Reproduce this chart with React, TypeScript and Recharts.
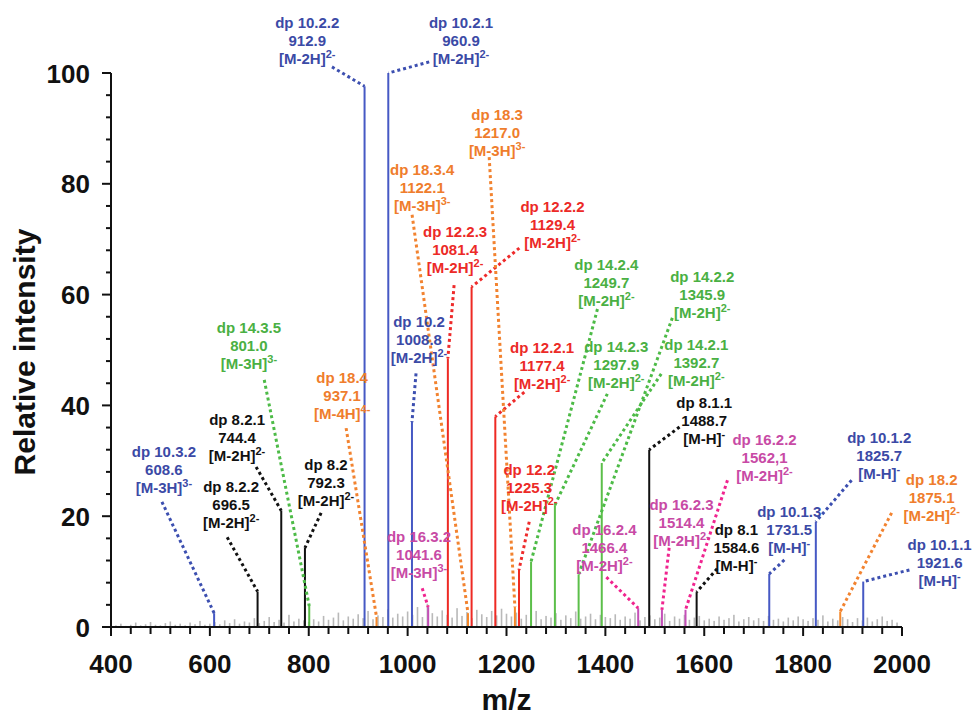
import React from "react";
import {
  ComposedChart,
  Bar,
  XAxis,
  YAxis,
  ReferenceLine,
  ReferenceDot,
  Label,
} from "recharts";

// peaks, sorted by m/z
const PEAK_MZ = [608.6, 696.5, 744.4, 792.3, 801.0, 912.9, 937.1, 960.9, 1008.8, 1041.6, 1081.4, 1122.1, 1129.4, 1177.4, 1217.0, 1225.3, 1249.7, 1297.9, 1345.9, 1392.7, 1466.4, 1488.7, 1514.4, 1562.1, 1584.6, 1731.5, 1825.7, 1875.1, 1921.6];
const PEAK_INTENSITY = [2.5, 6.4, 21, 14.3, 3.8, 97.6, 1.8, 100, 37, 3.6, 48.5, 2.5, 61.4, 38, 3.6, 10.3, 11.8, 22, 9.5, 29.6, 3.4, 32, 3.1, 3.1, 6.3, 9.6, 19, 2.8, 8.2];
const PEAK_NAME = ["dp 10.3.2", "dp 8.2.2", "dp 8.2.1", "dp 8.2", "dp 14.3.5", "dp 10.2.2", "dp 18.4", "dp 10.2.1", "dp 10.2", "dp 16.3.2", "dp 12.2.3", "dp 18.3.4", "dp 12.2.2", "dp 12.2.1", "dp 18.3", "dp 12.2", "dp 14.2.4", "dp 14.2.3", "dp 14.2.2", "dp 14.2.1", "dp 16.2.4", "dp 8.1.1", "dp 16.2.3", "dp 16.2.2", "dp 8.1", "dp 10.1.3", "dp 10.1.2", "dp 18.2", "dp 10.1.1"];
const PEAK_LABEL = ["608.6", "696.5", "744.4", "792.3", "801.0", "912.9", "937.1", "960.9", "1008.8", "1041.6", "1081.4", "1122.1", "1129.4", "1177.4", "1217.0", "1225.3", "1249.7", "1297.9", "1345.9", "1392.7", "1466.4", "1488.7", "1514.4", "1562,1", "1584.6", "1731.5", "1825.7", "1875.1", "1921.6"];
const PEAK_ION = ["[M-3H]", "[M-2H]", "[M-2H]", "[M-2H]", "[M-3H]", "[M-2H]", "[M-4H]", "[M-2H]", "[M-2H]", "[M-3H]", "[M-2H]", "[M-3H]", "[M-2H]", "[M-2H]", "[M-3H]", "[M-2H]", "[M-2H]", "[M-2H]", "[M-2H]", "[M-2H]", "[M-2H]", "[M-H]", "[M-2H]", "[M-2H]", "[M-H]", "[M-H]", "[M-H]", "[M-2H]", "[M-H]"];
const PEAK_CHARGE = ["3-", "2-", "2-", "2-", "3-", "2-", "4-", "2-", "2-", "3-", "2-", "3-", "2-", "2-", "3-", "2-", "2-", "2-", "2-", "2-", "2-", "-", "2-", "2-", "-", "-", "-", "2-", "-"];
const PEAK_GROUP = ["blue", "black", "black", "black", "green", "blue", "orange", "blue", "blue", "pink", "red", "orange", "red", "red", "orange", "red", "green", "green", "green", "green", "pink", "black", "pink", "pink", "black", "blue", "blue", "orange", "blue"];

// baseline noise, one value every 10 m/z starting at 410
const NOISE_START = 410;
const NOISE_STEP = 10;
const NOISE = [
  0.3, 0.6, 0.2, 0.4, 0.8, 0.3, 0.5, 0.9, 0.4, 0.3, 0.7, 1.0, 0.4, 0.6, 0.3, 0.8, 0.5, 1.1, 0.4, 0.6,
  0.9, 0.5, 1.2, 0.7, 1.4, 0.6, 1.0, 0.8, 1.6, 0.7, 1.1, 1.8, 0.9, 1.3, 0.8, 2.2, 1.0, 1.5, 1.2, 0.9,
  1.4, 1.0, 2.0, 1.3, 1.7, 2.6, 1.2, 1.9, 1.5, 2.3, 1.6, 2.9, 1.4, 2.1, 1.8, 3.2, 1.7, 2.4, 1.9, 2.8,
  2.2, 3.6, 1.8, 4.2, 2.5, 1.9, 3.0, 2.2, 1.7, 3.4, 2.0, 2.7, 1.6, 3.1, 2.3, 1.8, 2.9, 2.1, 3.3, 2.4,
  1.9, 2.6, 1.5, 2.2, 1.8, 2.9, 1.4, 2.0, 1.7, 2.5, 1.3, 2.1, 1.6, 2.8, 1.5, 1.9, 2.4, 1.4, 2.2, 1.8,
  1.6, 2.3, 1.3, 1.9, 1.5, 2.6, 1.2, 1.8, 2.1, 1.4, 1.7, 2.4, 1.1, 1.9, 1.5, 2.2, 1.3, 1.7, 2.0, 1.2,
  1.5, 1.1, 1.9, 1.3, 1.6, 2.2, 1.0, 1.4, 1.8, 1.2, 1.6, 1.1, 2.0, 1.3, 1.5, 1.0, 1.7, 1.2, 1.9, 1.4,
  1.1, 1.6, 1.3, 2.1, 1.0, 1.5, 1.2, 1.8, 1.4, 0.9, 1.6, 1.2, 1.7, 1.0, 1.4, 1.9, 1.1, 1.3, 0.8,
];

const X_TICKS = [400, 440, 480, 520, 560, 600, 640, 680, 720, 760, 800, 840, 880, 920, 960, 1000, 1040, 1080, 1120, 1160, 1200, 1240, 1280, 1320, 1360, 1400, 1440, 1480, 1520, 1560, 1600, 1640, 1680, 1720, 1760, 1800, 1840, 1880, 1920, 1960, 2000];
const Y_TICKS = [0, 4, 8, 12, 16, 20, 24, 28, 32, 36, 40, 44, 48, 52, 56, 60, 64, 68, 72, 76, 80, 84, 88, 92, 96, 100];

// where each annotation sits (data units): label centre x, first-line y, dotted line start x, y
const LABEL_POS = [
  [507, 31.6, 503, 22.6],
  [643, 25.3, 635, 16.2],
  [655, 37.4, 693.5, 28.9],
  [835, 29.2, 825, 20.6],
  [679, 54, 710, 44.6],
  [797, 109, 847, 101.1],
  [867.5, 45, 875.6, 35.9],
  [1108, 109, 1043.6, 102],
  [1023, 55, 1017, 45.8],
  [1023, 16.2, 1029.5, 7.0],
  [1096, 71.3, 1094, 61.7],
  [1029.5, 82.5, 1009, 74.4],
  [1293, 75.8, 1226, 68.4],
  [1272, 50.4, 1236, 42.4],
  [1181, 92.4, 1165, 84.8],
  [1246, 28.3, 1246, 19.0],
  [1402, 65.3, 1384, 57.4],
  [1422, 50.5, 1404, 42.1],
  [1596, 63.2, 1535.5, 55.8],
  [1584, 50.9, 1513, 45.7],
  [1398, 17.5, 1402, 9.0],
  [1600, 40.4, 1550, 36.1],
  [1554, 22.0, 1529, 14.3],
  [1722, 33.8, 1647, 26.5],
  [1665, 17.5, 1626, 10.5],
  [1772, 20.8, 1762, 12.1],
  [1954, 34.1, 1898, 26.5],
  [2060, 26.5, 1979, 20.6],
  [2076, 14.8, 2015, 10.3],
];

const PEAK_COLOR: Record<string, string> = {
  blue: "#4659c4",
  black: "#111111",
  green: "#5cbf4a",
  red: "#ee2a24",
  orange: "#f5882a",
  pink: "#c44fb8",
};
const TEXT_COLOR: Record<string, string> = {
  blue: "#3b4aa6",
  black: "#111111",
  green: "#4ab043",
  red: "#ec2a27",
  orange: "#ef7d2c",
  pink: "#c84aa5",
};
const DOT_COLOR: Record<string, string> = {
  blue: "#3c4fb0",
  black: "#111111",
  green: "#4dbb47",
  red: "#ee2b2b",
  orange: "#f28330",
  pink: "#f0248f",
};

const FONT = "'Liberation Sans', Arial, Helvetica, sans-serif";

const noiseData = NOISE.map((v, i) => ({
  mz: NOISE_START + i * NOISE_STEP,
  v,
  color: "#b9b9b9",
  kind: "noise",
}));
const peakData = PEAK_MZ.map((mz, i) => ({
  mz,
  v: PEAK_INTENSITY[i],
  color: PEAK_COLOR[PEAK_GROUP[i]],
  kind: "peak",
}));
const chartData = [...noiseData, ...peakData];

// draw each bar as a thin stick centred on its m/z
const Stick = (p: any) => {
  const { x, y, width, height, payload } = p;
  if (!height || height <= 0) return <g />;
  const w = payload.kind === "noise" ? 1.6 : 2;
  const cx = x + width / 2;
  return <rect x={cx - w / 2} y={y} width={w} height={height} fill={payload.color} />;
};

const XTick = (props: any) => {
  const { x, y, payload } = props;
  const major = payload.value % 200 === 0;
  return (
    <g>
      <line x1={x} y1={y} x2={x} y2={y + (major ? 9 : 7)} stroke="#111" strokeWidth={2} />
      {major && (
        <text x={x} y={y + 46} textAnchor="middle" fontFamily={FONT} fontWeight="bold" fontSize={26} fill="#111">
          {payload.value}
        </text>
      )}
    </g>
  );
};

const YTick = (props: any) => {
  const { x, y, payload } = props;
  const major = payload.value % 20 === 0;
  return (
    <g>
      <line x1={x} y1={y} x2={x - (major ? 9 : 5)} y2={y} stroke="#111" strokeWidth={2} />
      {major && (
        <text x={x - 21} y={y + 9.5} textAnchor="end" fontFamily={FONT} fontWeight="bold" fontSize={26} fill="#111">
          {payload.value}
        </text>
      )}
    </g>
  );
};

const Annotation = ({ cx, cy, i }: { cx: number; cy: number; i: number }) => {
  const color = TEXT_COLOR[PEAK_GROUP[i]];
  return (
    <text textAnchor="middle" fontFamily={FONT} fontWeight="bold" fontSize={15} fill={color}>
      <tspan x={cx} y={cy + 5}>{PEAK_NAME[i]}</tspan>
      <tspan x={cx} y={cy + 23}>{PEAK_LABEL[i]}</tspan>
      <tspan x={cx} y={cy + 41}>{PEAK_ION[i]}</tspan>
      <tspan dy={-6} fontSize={11}>{PEAK_CHARGE[i]}</tspan>
    </text>
  );
};

export default function App() {
  return (
    <div style={{ position: "absolute", left: 0, top: 0, background: "#fff" }}>
      <ComposedChart
        width={972}
        height={717}
        data={chartData}
        margin={{ top: 73, right: 70, bottom: 0, left: 0 }}
      >
        <XAxis
          type="number"
          dataKey="mz"
          domain={[400, 2000]}
          allowDataOverflow
          ticks={X_TICKS}
          interval={0}
          tick={XTick}
          tickLine={false}
          tickSize={0}
          tickMargin={0}
          height={90}
          axisLine={{ stroke: "#111", strokeWidth: 2 }}
        >
          <Label
            content={(p: any) => {
              const vb = p.viewBox;
              return (
                <text x={vb.x + vb.width / 2} y={710} textAnchor="middle" fontFamily={FONT} fontWeight="bold" fontSize={30} fill="#111">
                  m/z
                </text>
              );
            }}
          />
        </XAxis>
        <YAxis
          type="number"
          domain={[0, 100]}
          allowDataOverflow
          ticks={Y_TICKS}
          interval={0}
          tick={YTick}
          tickLine={false}
          tickSize={0}
          tickMargin={0}
          width={111}
          axisLine={{ stroke: "#111", strokeWidth: 2 }}
        >
          <Label
            content={(p: any) => {
              const vb = p.viewBox;
              const cy = vb.y + vb.height / 2 + 2;
              return (
                <text x={35} y={cy} transform={`rotate(-90 35 ${cy})`} textAnchor="middle" fontFamily={FONT} fontWeight="bold" fontSize={30} fill="#111">
                  Relative intensity
                </text>
              );
            }}
          />
        </YAxis>

        <Bar dataKey="v" shape={Stick} barSize={2} isAnimationActive={false} />

        {PEAK_MZ.map((mz, i) => (
          <ReferenceLine
            key={`l${i}`}
            segment={[
              { x: LABEL_POS[i][2], y: LABEL_POS[i][3] },
              { x: mz, y: PEAK_INTENSITY[i] },
            ]}
            stroke={DOT_COLOR[PEAK_GROUP[i]]}
            strokeWidth={3}
            strokeDasharray="3 3"
            ifOverflow="visible"
          />
        ))}

        {PEAK_MZ.map((mz, i) => (
          <ReferenceDot
            key={`t${i}`}
            x={LABEL_POS[i][0]}
            y={LABEL_POS[i][1]}
            r={0}
            ifOverflow="visible"
            shape={(p: any) => <Annotation cx={p.cx} cy={p.cy} i={i} />}
          />
        ))}
      </ComposedChart>
    </div>
  );
}
